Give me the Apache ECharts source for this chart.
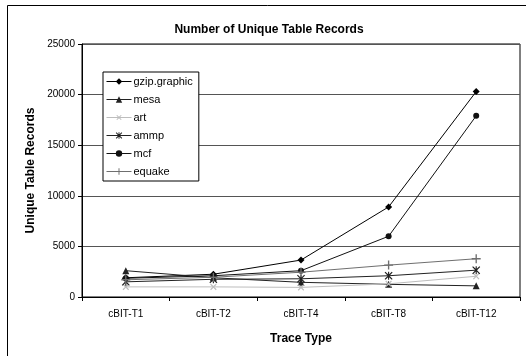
<!DOCTYPE html>
<html>
<head>
<meta charset="utf-8">
<script src="https://cdn.jsdelivr.net/npm/echarts@6/dist/echarts.min.js"></script>
<style>
  html, body { margin: 0; padding: 0; background: #fff; }
  #chart { width: 526px; height: 356px; }
</style>
</head>
<body>
<div id="chart"></div>
<script>
// Trace types along the x axis
const traceTypes = ['cBIT-T1', 'cBIT-T2', 'cBIT-T4', 'cBIT-T8', 'cBIT-T12'];

// Unique table records per benchmark
const gzipGraphic = [1900, 2250, 3650, 8900, 20300];
const mesa        = [2600, 1900, 1450, 1250, 1100];
const art         = [1000, 1000, 950, 1300, 2050];
const ammp        = [1500, 1750, 1800, 2100, 2650];
const mcf         = [1850, 2100, 2600, 6000, 17900];
const equake      = [1700, 1950, 2450, 3150, 3780];

const yTicks = [0, 5000, 10000, 15000, 20000, 25000];

// Marker shapes drawn as filled outlines
const PLUS = 'path://M4.25,0h1.5v4.25h4.25v1.5h-4.25v4.25h-1.5v-4.25h-4.25v-1.5h4.25z';
const STAR = 'path://M1,0L5,3.9L9,0L10,1L6.1,5L10,9L9,10L5,6.1L1,10L0,9L3.9,5L0,1z M4.3,0h1.4v10h-1.4z';

const FONT = 'Liberation Sans, Arial, sans-serif';

function makeSeries(name, data, color, symbol, size, rotate) {
  return {
    name: name,
    type: 'line',
    data: data,
    symbol: symbol,
    symbolSize: size,
    symbolRotate: rotate || 0,
    showAllSymbol: true,
    lineStyle: { color: color, width: 1 },
    itemStyle: { color: color, borderWidth: 0 },
    emphasis: { disabled: true },
    animation: false
  };
}

const chart = echarts.init(document.getElementById('chart'), null, { renderer: 'canvas' });

chart.setOption({
  animation: false,
  backgroundColor: '#fff',
  textStyle: { fontFamily: FONT },
  title: {
    text: 'Number of Unique Table Records',
    left: 264, top: 19,
    textAlign: 'center',
    textStyle: { fontFamily: FONT, fontSize: 12, fontWeight: 'bold', color: '#000' }
  },
  graphic: [{
    type: 'rect',
    shape: { x: 7.5, y: 5.5, width: 700, height: 500 },
    style: { fill: 'none', stroke: '#000', lineWidth: 1 },
    z: -1
  }],
  grid: {
    left: 82, top: 44, right: 6, bottom: 59,
    show: true, borderColor: '#000', borderWidth: 1, backgroundColor: '#fff'
  },
  legend: {
    orient: 'vertical',
    left: 103, top: 72,
    padding: [4, 6, 4, 3],
    itemWidth: 25, itemHeight: 8, itemGap: 7,
    backgroundColor: '#fff',
    borderColor: '#000', borderWidth: 1,
    lineStyle: { width: 1 },
    textStyle: { fontFamily: FONT, fontSize: 11, color: '#000', padding: [0, 0, 0, -3] },
    data: ['gzip.graphic', 'mesa', 'art', 'ammp', 'mcf', 'equake']
  },
  xAxis: {
    type: 'category',
    data: traceTypes,
    boundaryGap: true,
    name: 'Trace Type',
    nameLocation: 'middle',
    nameGap: 36,
    nameTextStyle: { fontFamily: FONT, fontSize: 12, fontWeight: 'bold', color: '#000' },
    axisLine: { lineStyle: { color: '#000', width: 1 } },
    axisTick: { show: true, length: 4, lineStyle: { color: '#000' } },
    axisLabel: { fontFamily: FONT, fontSize: 10, color: '#000', margin: 12 },
    splitLine: { show: false }
  },
  yAxis: {
    type: 'value',
    min: yTicks[0],
    max: yTicks[yTicks.length - 1],
    interval: 5000,
    name: 'Unique Table Records',
    nameLocation: 'middle',
    nameGap: 45,
    nameTextStyle: { fontFamily: FONT, fontSize: 12, fontWeight: 'bold', color: '#000' },
    axisLine: { show: true, lineStyle: { color: '#000', width: 1 } },
    axisTick: { show: true, length: 4, lineStyle: { color: '#000' } },
    axisLabel: {
      fontFamily: FONT, fontSize: 10, color: '#000', margin: 7,
      formatter: function (v) { return String(v); }
    },
    splitLine: { show: true, lineStyle: { color: '#555', width: 1 } }
  },
  series: [
    makeSeries('gzip.graphic', gzipGraphic, '#000', 'diamond', 7),
    makeSeries('mesa', mesa, '#222', 'triangle', 7),
    makeSeries('art', art, '#bdbdbd', PLUS, 8, 45),
    makeSeries('ammp', ammp, '#222', STAR, 8),
    makeSeries('mcf', mcf, '#111', 'circle', 6),
    makeSeries('equake', equake, '#6f6f6f', PLUS, 9)
  ]
});
</script>
</body>
</html>
